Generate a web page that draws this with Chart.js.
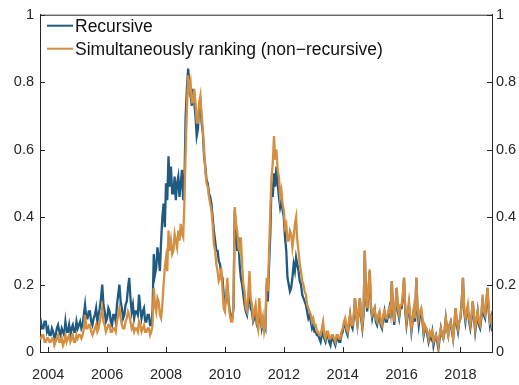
<!DOCTYPE html>
<html>
<head>
<meta charset="utf-8">
<script src="https://cdn.jsdelivr.net/npm/chart.js@4/dist/chart.umd.min.js"></script>
<style>
  html, body { margin: 0; padding: 0; background: #ffffff; }
  canvas { display: block; }
</style>
</head>
<body>
<canvas id="chart" width="519" height="385"></canvas>
<script>
// Semi-monthly observations (1st and 16th), September 2003 through February 2019
const firstYear = 2003;
const firstMonth = 9;
const obsCount = 372;
const dates = [];
for (let i = 0; i < obsCount; i++) {
  const half = firstMonth - 1 + i / 2;
  dates.push(firstYear + half / 12);
}

const recursive = [
  0.10, 0.08, 0.09, 0.07, 0.07, 0.09, 0.09, 0.06,
  0.07, 0.05, 0.05, 0.07, 0.06, 0.04, 0.05, 0.07, 0.08, 0.06, 0.05, 0.07, 0.06, 0.05, 0.09, 0.06, 0.06, 0.08, 0.05, 0.07, 0.08, 0.06, 0.06, 0.09,
  0.07, 0.08, 0.09, 0.07, 0.08, 0.11, 0.14, 0.10, 0.10, 0.12, 0.12, 0.09, 0.08, 0.10, 0.11, 0.13, 0.09, 0.11, 0.13, 0.16, 0.20, 0.14, 0.12, 0.09,
  0.10, 0.13, 0.12, 0.09, 0.08, 0.11, 0.11, 0.09, 0.14, 0.17, 0.20, 0.15, 0.13, 0.10, 0.11, 0.14, 0.15, 0.19, 0.22, 0.16, 0.12, 0.14, 0.10, 0.12,
  0.12, 0.11, 0.17, 0.13, 0.10, 0.12, 0.13, 0.09, 0.09, 0.11, 0.11, 0.08, 0.08, 0.12, 0.29, 0.23, 0.25, 0.31, 0.28, 0.24, 0.33, 0.40, 0.44, 0.37,
  0.50, 0.45, 0.58, 0.49, 0.55, 0.47, 0.47, 0.52, 0.45, 0.50, 0.52, 0.46, 0.50, 0.54, 0.45, 0.50, 0.70, 0.78, 0.84, 0.80, 0.76, 0.73, 0.78, 0.74,
  0.70, 0.64, 0.66, 0.73, 0.74, 0.68, 0.65, 0.58, 0.55, 0.51, 0.50, 0.47, 0.46, 0.44, 0.40, 0.36, 0.33, 0.30, 0.30, 0.27, 0.26, 0.23, 0.22, 0.17,
  0.14, 0.16, 0.20, 0.15, 0.12, 0.10, 0.10, 0.13, 0.42, 0.35, 0.30, 0.34, 0.26, 0.22, 0.20, 0.17, 0.14, 0.12, 0.11, 0.15, 0.19, 0.13, 0.12, 0.09,
  0.10, 0.12, 0.08, 0.07, 0.13, 0.10, 0.07, 0.09, 0.08, 0.07, 0.20, 0.15, 0.26, 0.35, 0.50, 0.46, 0.53, 0.49, 0.55, 0.50, 0.46, 0.43, 0.45, 0.42,
  0.40, 0.34, 0.30, 0.22, 0.20, 0.18, 0.19, 0.22, 0.26, 0.24, 0.28, 0.26, 0.24, 0.21, 0.20, 0.17, 0.16, 0.15, 0.14, 0.12, 0.10, 0.11, 0.09, 0.07,
  0.08, 0.06, 0.06, 0.05, 0.05, 0.04, 0.03, 0.05, 0.06, 0.04, 0.03, 0.05, 0.05, 0.03, 0.02, 0.04, 0.04, 0.03, 0.02, 0.04, 0.04, 0.03, 0.03, 0.05,
  0.06, 0.08, 0.09, 0.06, 0.05, 0.08, 0.11, 0.08, 0.07, 0.10, 0.16, 0.11, 0.08, 0.12, 0.16, 0.10, 0.07, 0.11, 0.30, 0.15, 0.12, 0.18, 0.24, 0.13,
  0.10, 0.12, 0.13, 0.09, 0.08, 0.10, 0.11, 0.08, 0.07, 0.10, 0.12, 0.09, 0.09, 0.11, 0.13, 0.10, 0.21, 0.12, 0.08, 0.13, 0.19, 0.12, 0.10, 0.13,
  0.13, 0.16, 0.22, 0.12, 0.08, 0.11, 0.14, 0.10, 0.06, 0.09, 0.13, 0.09, 0.22, 0.12, 0.08, 0.11, 0.12, 0.09, 0.05, 0.07, 0.07, 0.05, 0.03, 0.05,
  0.04, 0.06, 0.02, 0.04, 0.05, 0.03, 0.01, 0.04, 0.07, 0.05, 0.04, 0.06, 0.10, 0.07, 0.05, 0.08, 0.09, 0.06, 0.04, 0.08, 0.13, 0.08, 0.06, 0.09,
  0.10, 0.15, 0.22, 0.12, 0.09, 0.12, 0.13, 0.09, 0.07, 0.10, 0.15, 0.10, 0.06, 0.09, 0.12, 0.08, 0.07, 0.10, 0.16, 0.11, 0.10, 0.14, 0.19, 0.12,
  0.08, 0.10, 0.06, 0.08
];

const simultaneous = [
  0.06, 0.04, 0.04, 0.05, 0.05, 0.03, 0.03, 0.04,
  0.04, 0.03, 0.03, 0.04, 0.04, 0.02, 0.03, 0.04, 0.05, 0.03, 0.03, 0.04, 0.02, 0.03, 0.05, 0.03, 0.04, 0.05, 0.03, 0.04, 0.05, 0.03, 0.03, 0.05,
  0.04, 0.05, 0.05, 0.04, 0.05, 0.07, 0.11, 0.07, 0.07, 0.08, 0.08, 0.06, 0.05, 0.06, 0.07, 0.08, 0.06, 0.07, 0.09, 0.11, 0.13, 0.09, 0.08, 0.06,
  0.07, 0.08, 0.08, 0.06, 0.06, 0.07, 0.07, 0.06, 0.09, 0.11, 0.13, 0.10, 0.08, 0.07, 0.07, 0.09, 0.10, 0.12, 0.11, 0.09, 0.07, 0.08, 0.06, 0.07,
  0.07, 0.06, 0.09, 0.08, 0.06, 0.07, 0.08, 0.06, 0.06, 0.07, 0.07, 0.05, 0.06, 0.08, 0.19, 0.14, 0.12, 0.16, 0.15, 0.11, 0.10, 0.14, 0.20, 0.25,
  0.28, 0.24, 0.36, 0.30, 0.33, 0.29, 0.30, 0.35, 0.33, 0.31, 0.36, 0.33, 0.38, 0.35, 0.34, 0.45, 0.60, 0.72, 0.82, 0.78, 0.80, 0.74, 0.74, 0.78,
  0.74, 0.68, 0.68, 0.74, 0.76, 0.70, 0.66, 0.60, 0.54, 0.50, 0.49, 0.46, 0.44, 0.42, 0.38, 0.32, 0.30, 0.26, 0.24, 0.21, 0.22, 0.25, 0.19, 0.13,
  0.12, 0.17, 0.22, 0.14, 0.11, 0.09, 0.09, 0.14, 0.43, 0.38, 0.36, 0.31, 0.30, 0.34, 0.26, 0.20, 0.18, 0.13, 0.12, 0.17, 0.24, 0.16, 0.14, 0.10,
  0.12, 0.14, 0.09, 0.07, 0.16, 0.12, 0.07, 0.10, 0.06, 0.08, 0.22, 0.18, 0.30, 0.42, 0.52, 0.56, 0.64, 0.57, 0.60, 0.54, 0.52, 0.46, 0.48, 0.44,
  0.42, 0.37, 0.38, 0.33, 0.33, 0.36, 0.35, 0.31, 0.34, 0.38, 0.40, 0.33, 0.30, 0.26, 0.24, 0.21, 0.20, 0.18, 0.17, 0.14, 0.13, 0.12, 0.11, 0.09,
  0.10, 0.08, 0.08, 0.06, 0.06, 0.05, 0.05, 0.07, 0.09, 0.05, 0.04, 0.06, 0.06, 0.04, 0.04, 0.05, 0.05, 0.04, 0.03, 0.05, 0.05, 0.04, 0.04, 0.06,
  0.07, 0.09, 0.10, 0.07, 0.06, 0.09, 0.11, 0.08, 0.08, 0.11, 0.16, 0.11, 0.08, 0.12, 0.16, 0.11, 0.08, 0.12, 0.30, 0.16, 0.13, 0.19, 0.245, 0.14,
  0.11, 0.12, 0.13, 0.10, 0.09, 0.11, 0.12, 0.09, 0.08, 0.11, 0.12, 0.10, 0.10, 0.12, 0.13, 0.11, 0.21, 0.13, 0.09, 0.14, 0.19, 0.13, 0.11, 0.14,
  0.14, 0.17, 0.22, 0.13, 0.09, 0.12, 0.15, 0.11, 0.07, 0.10, 0.13, 0.10, 0.22, 0.13, 0.10, 0.12, 0.13, 0.10, 0.06, 0.08, 0.07, 0.06, 0.04, 0.06,
  0.05, 0.06, 0.03, 0.04, 0.05, 0.04, 0.02, 0.05, 0.07, 0.05, 0.04, 0.06, 0.10, 0.07, 0.05, 0.08, 0.09, 0.07, 0.04, 0.08, 0.13, 0.09, 0.07, 0.09,
  0.10, 0.15, 0.22, 0.13, 0.10, 0.12, 0.14, 0.10, 0.08, 0.11, 0.15, 0.11, 0.07, 0.10, 0.12, 0.09, 0.08, 0.11, 0.17, 0.12, 0.11, 0.15, 0.19, 0.13,
  0.09, 0.10, 0.07, 0.08
];

const seriesNames = ['Recursive', 'Simultaneously ranking (non\u2212recursive)'];
const seriesColors = ['#1f5a80', '#d68f40'];
const xTickYears = [2004, 2006, 2008, 2010, 2012, 2014, 2016, 2018];
const yTickValues = [0, 0.2, 0.4, 0.6, 0.8, 1];

const axisColor = '#262626';
const tickFont = { family: '"Liberation Sans", Arial, Helvetica, sans-serif', size: 14.5 };

function toPoints(values) {
  return values.map((v, i) => ({ x: dates[i], y: v }));
}

// Inward tick marks, top frame line and an in-plot legend
const framePlugin = {
  id: 'frame',
  afterDraw(chart) {
    const ctx = chart.ctx;
    const a = chart.chartArea;
    const tl = 5;
    ctx.save();
    ctx.strokeStyle = axisColor;
    ctx.lineWidth = 1;
    ctx.beginPath();
    ctx.moveTo(a.left, a.top + 0.5);
    ctx.lineTo(a.right, a.top + 0.5);
    const xs = chart.scales.x;
    xs.ticks.forEach(t => {
      const px = Math.round(xs.getPixelForValue(t.value)) + 0.5;
      ctx.moveTo(px, a.bottom);
      ctx.lineTo(px, a.bottom - tl);
    });
    const ys = chart.scales.y;
    ys.ticks.forEach(t => {
      const py = Math.round(ys.getPixelForValue(t.value)) + 0.5;
      ctx.moveTo(a.left, py);
      ctx.lineTo(a.left + tl, py);
      ctx.moveTo(a.right, py);
      ctx.lineTo(a.right - tl, py);
    });
    ctx.stroke();

    // legend
    ctx.font = '17.5px "Liberation Sans", Arial, Helvetica, sans-serif';
    ctx.textBaseline = 'middle';
    ctx.textAlign = 'left';
    const rows = [a.top + 11, a.top + 34];
    chart.data.datasets.forEach((ds, i) => {
      const y = rows[i];
      ctx.strokeStyle = ds.borderColor;
      ctx.lineWidth = 2;
      ctx.beginPath();
      ctx.moveTo(a.left + 7, y);
      ctx.lineTo(a.left + 33, y);
      ctx.stroke();
      ctx.fillStyle = '#111111';
      ctx.fillText(ds.label, a.left + 35, y + 1);
    });
    ctx.restore();
  }
};

new Chart(document.getElementById('chart'), {
  type: 'line',
  data: {
    datasets: [
      {
        label: seriesNames[0],
        data: toPoints(recursive),
        borderColor: seriesColors[0],
        borderWidth: 2.3,
        pointRadius: 0,
        tension: 0,
        order: 1
      },
      {
        label: seriesNames[1],
        data: toPoints(simultaneous),
        borderColor: seriesColors[1],
        borderWidth: 2.3,
        pointRadius: 0,
        tension: 0,
        order: 0
      }
    ]
  },
  options: {
    responsive: false,
    animation: false,
    devicePixelRatio: 1,
    layout: { padding: { top: 13, left: 0, right: 0, bottom: 0 } },
    plugins: {
      legend: { display: false },
      tooltip: { enabled: false }
    },
    scales: {
      x: {
        type: 'linear',
        min: 2003.72,
        max: 2019.07,
        grid: { display: false, drawTicks: false },
        border: { display: true, color: axisColor, width: 1 },
        ticks: {
          color: axisColor,
          font: tickFont,
          padding: 14,
          maxRotation: 0,
          autoSkip: false,
          callback: v => String(v)
        },
        afterBuildTicks: s => { s.ticks = xTickYears.map(v => ({ value: v })); },
        afterFit: s => { s.height = 33; }
      },
      y: {
        position: 'left',
        min: 0,
        max: 1,
        grid: { display: false, drawTicks: false },
        border: { display: true, color: axisColor, width: 1 },
        ticks: { color: axisColor, font: tickFont, padding: 6, callback: v => String(v) },
        afterBuildTicks: s => { s.ticks = yTickValues.map(v => ({ value: v })); },
        afterFit: s => { s.width = 40; }
      },
      y2: {
        position: 'right',
        min: 0,
        max: 1,
        grid: { display: false, drawTicks: false },
        border: { display: true, color: axisColor, width: 1 },
        ticks: { color: axisColor, font: tickFont, padding: 4, callback: v => String(v) },
        afterBuildTicks: s => { s.ticks = yTickValues.map(v => ({ value: v })); },
        afterFit: s => { s.width = 27; }
      }
    }
  },
  plugins: [framePlugin]
});
</script>
</body>
</html>
